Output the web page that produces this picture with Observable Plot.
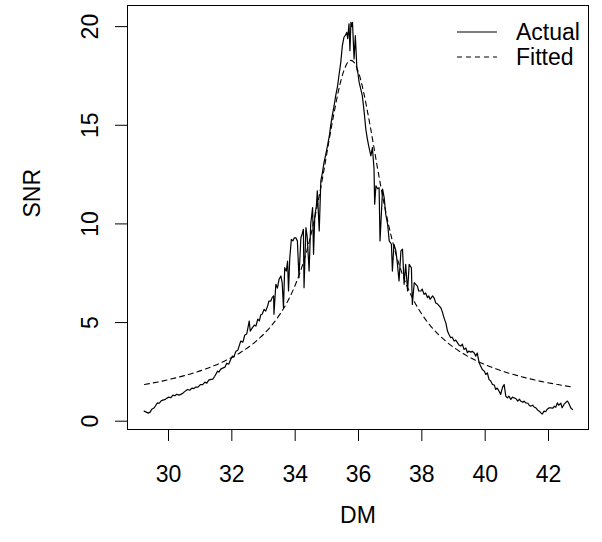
<!DOCTYPE html>
<html>
<head>
<meta charset="utf-8">
<script src="https://cdn.jsdelivr.net/npm/d3@7"></script>
<script src="https://cdn.jsdelivr.net/npm/@observablehq/plot@0.6"></script>
<style>
  html, body { margin: 0; padding: 0; background: #fff; }
  #chart { width: 602px; height: 542px; }
  svg { font-family: "Liberation Sans", Arial, Helvetica, sans-serif; }
</style>
</head>
<body>
<div id="chart"></div>
<script>
// ---- data ----
const actualDM = [29.23,29.30,29.36,29.42,29.47,29.55,29.60,29.65,29.71,29.76,29.82,29.88,29.95,30.00,30.07,30.14,30.20,30.26,30.33,30.39,30.45,30.51,30.60,30.67,30.74,30.80,30.86,30.93,30.99,31.02,31.08,31.15,31.21,31.27,31.34,31.40,31.46,31.55,31.59,31.65,31.71,31.78,31.84,31.90,31.97,32.02,32.06,32.13,32.19,32.24,32.28,32.35,32.41,32.47,32.55,32.58,32.65,32.71,32.76,32.82,32.87,32.91,32.96,33.02,33.07,33.13,33.17,33.23,33.28,33.32,33.33,33.39,33.44,33.49,33.55,33.59,33.63,33.67,33.72,33.76,33.79,33.83,33.88,33.93,33.97,34.02,34.07,34.12,34.18,34.22,34.26,34.28,34.34,34.38,34.44,34.49,34.55,34.58,34.62,34.67,34.70,34.76,34.81,34.86,34.91,34.97,35.02,35.08,35.12,35.17,35.23,35.28,35.34,35.39,35.44,35.49,35.54,35.60,35.63,35.66,35.70,35.73,35.76,35.79,35.81,35.86,35.90,35.95,35.98,36.02,36.07,36.12,36.18,36.23,36.28,36.34,36.39,36.44,36.49,36.51,36.55,36.60,36.65,36.68,36.76,36.81,36.86,36.92,36.97,37.04,37.07,37.12,37.18,37.23,37.28,37.34,37.39,37.44,37.49,37.55,37.60,37.67,37.70,37.76,37.86,37.90,37.97,38.01,38.07,38.12,38.18,38.22,38.26,38.34,38.39,38.44,38.50,38.60,38.65,38.70,38.76,38.81,38.85,38.91,38.96,39.02,39.07,39.13,39.17,39.23,39.28,39.33,39.39,39.44,39.48,39.55,39.59,39.65,39.70,39.75,39.81,39.86,39.91,39.97,40.02,40.07,40.12,40.18,40.23,40.29,40.33,40.38,40.44,40.49,40.55,40.60,40.65,40.70,40.75,40.81,40.86,40.91,40.97,41.03,41.08,41.12,41.19,41.23,41.28,41.35,41.39,41.44,41.50,41.55,41.60,41.66,41.71,41.76,41.80,41.86,41.91,41.96,42.02,42.07,42.14,42.18,42.23,42.28,42.32,42.39,42.43,42.49,42.55,42.60,42.64,42.70,42.76];
const actualSNR = [0.51,0.46,0.41,0.46,0.61,0.68,0.81,0.93,0.91,1.02,1.07,1.09,1.17,1.22,1.19,1.32,1.29,1.37,1.32,1.36,1.42,1.50,1.61,1.57,1.68,1.65,1.73,1.73,1.83,1.86,1.85,1.98,1.93,2.08,2.12,2.13,2.28,2.54,2.49,2.64,2.69,2.74,2.94,2.89,3.15,3.30,3.25,3.55,3.60,3.86,4.06,4.01,4.37,4.42,5.08,4.57,4.74,4.87,4.82,5.18,5.08,5.38,5.43,5.67,5.58,5.84,6.09,6.09,6.29,6.35,5.42,6.94,6.75,7.19,7.36,7.01,5.75,7.78,7.61,8.12,6.60,8.29,9.22,9.14,9.29,9.30,9.14,7.27,9.30,9.49,9.73,6.77,9.81,9.34,7.61,9.98,10.83,8.46,10.41,10.91,11.68,9.64,12.18,12.59,13.11,13.55,13.96,14.47,14.97,15.48,15.99,16.50,17.00,17.61,18.19,19.04,19.46,19.59,19.71,19.39,20.14,18.78,20.22,20.00,20.22,18.36,19.54,17.85,17.66,17.17,16.84,16.50,15.65,14.81,14.30,13.81,13.45,13.87,12.78,11.00,11.93,11.78,11.84,9.14,11.76,11.33,10.49,9.98,9.14,8.97,7.61,8.97,8.63,7.95,7.11,8.63,8.72,6.94,7.95,6.60,7.95,7.78,5.92,7.02,6.85,6.60,6.60,6.70,6.43,6.50,6.26,6.35,6.18,6.35,6.24,5.99,5.94,5.75,5.53,5.24,4.97,4.57,4.42,4.23,4.26,4.06,4.11,3.97,3.86,3.81,3.91,3.64,3.71,3.47,3.55,3.50,3.55,3.47,3.30,3.45,2.96,2.79,2.62,2.54,2.37,2.45,2.12,2.03,1.86,1.83,1.61,1.68,1.52,1.36,1.73,1.86,1.27,1.18,1.27,1.10,1.22,1.18,1.15,1.02,1.12,1.02,0.96,1.02,0.93,0.91,0.81,0.76,0.81,0.71,0.68,0.56,0.51,0.42,0.36,0.51,0.48,0.61,0.68,0.68,0.66,0.76,0.71,0.93,0.81,0.91,0.68,0.85,0.96,1.02,0.91,0.68,0.59];

const fittedDM = [29.24,29.76,30.26,30.76,31.26,31.76,32.26,32.76,33.26,33.51,33.76,33.96,34.16,34.36,34.56,34.76,34.86,34.96,35.06,35.16,35.26,35.36,35.46,35.56,35.66,35.76,35.86,35.96,36.06,36.16,36.26,36.36,36.46,36.56,36.66,36.76,36.96,37.16,37.36,37.56,37.76,38.01,38.26,38.76,39.26,39.76,40.26,40.76,41.26,41.76,42.26,42.76];
const fittedSNR = [1.86,2.02,2.21,2.43,2.70,3.04,3.47,4.05,4.86,5.40,6.07,6.74,7.57,8.60,9.88,11.42,12.29,13.20,14.14,15.04,15.89,16.69,17.36,17.86,18.19,18.29,18.19,17.86,17.36,16.69,15.89,15.04,14.14,13.20,12.29,11.42,9.88,8.60,7.57,6.74,6.07,5.40,4.86,4.05,3.47,3.04,2.70,2.43,2.21,2.02,1.87,1.73];

const xTicks = [30, 32, 34, 36, 38, 40, 42];
const yTicks = [0, 5, 10, 15, 20];
const xTitle = "DM";
const yTitle = "SNR";
const legendLabels = ["Actual", "Fitted"];

// ---- build tables ----
const actual = actualDM.map((d, i) => ({dm: d, snr: actualSNR[i]}));
const fitted = fittedDM.map((d, i) => ({dm: d, snr: fittedSNR[i]}));

const FS = 23;
const FONT = '"Liberation Sans", Arial, Helvetica, sans-serif';

const chart = Plot.plot({
  width: 602,
  height: 542,
  marginLeft: 127,
  marginRight: 14,
  marginTop: 5,
  marginBottom: 113,
  style: {fontFamily: FONT, fontSize: FS + "px", background: "#fff", color: "#000"},
  x: {domain: [28.705, 43.263]},
  y: {domain: [-0.42, 21.07]},
  marks: [
    Plot.axisX(xTicks, {tickSize: 12, tickPadding: 24, label: null, fontSize: FS, stroke: "#000", fill: "#000"}),
    Plot.axisY(yTicks, {tickSize: 12, label: null, text: null, stroke: "#000"}),
    Plot.text(yTicks, {y: d => d, text: d => String(d), frameAnchor: "left", dx: -37, rotate: -90, textAnchor: "middle", lineAnchor: "middle", fontSize: FS, fill: "#000"}),
    Plot.text([xTitle], {text: d => d, frameAnchor: "bottom", dy: 86, lineAnchor: "middle", fontSize: FS, fill: "#000"}),
    Plot.text([yTitle], {text: d => d, frameAnchor: "left", dx: -95, rotate: -90, lineAnchor: "middle", fontSize: FS, fill: "#000"}),
    Plot.line(fitted, {x: "dm", y: "snr", stroke: "#000", strokeWidth: 1.1, strokeDasharray: "5,4", curve: "monotone-x"}),
    Plot.line(actual, {x: "dm", y: "snr", stroke: "#000", strokeWidth: 1.2}),
    Plot.frame({stroke: "#000", strokeWidth: 1})
  ]
});

// legend (top-right inside the plot box)
const svg = d3.select(chart);
const lg = svg.append("g").attr("font-family", FONT).attr("font-size", FS).attr("text-anchor", "start");
legendLabels.forEach((lab, i) => {
  const cy = 32 + i * 25;
  lg.append("line").attr("x1", 457).attr("x2", 497).attr("y1", cy).attr("y2", cy)
    .attr("stroke", "#000").attr("stroke-width", 1.1)
    .attr("stroke-dasharray", i === 1 ? "5,4" : null);
  lg.append("text").attr("x", 516).attr("y", cy).attr("dy", "0.35em").attr("fill", "#000").attr("text-anchor", "start").text(lab);
});

document.getElementById("chart").appendChild(chart);
</script>
</body>
</html>
